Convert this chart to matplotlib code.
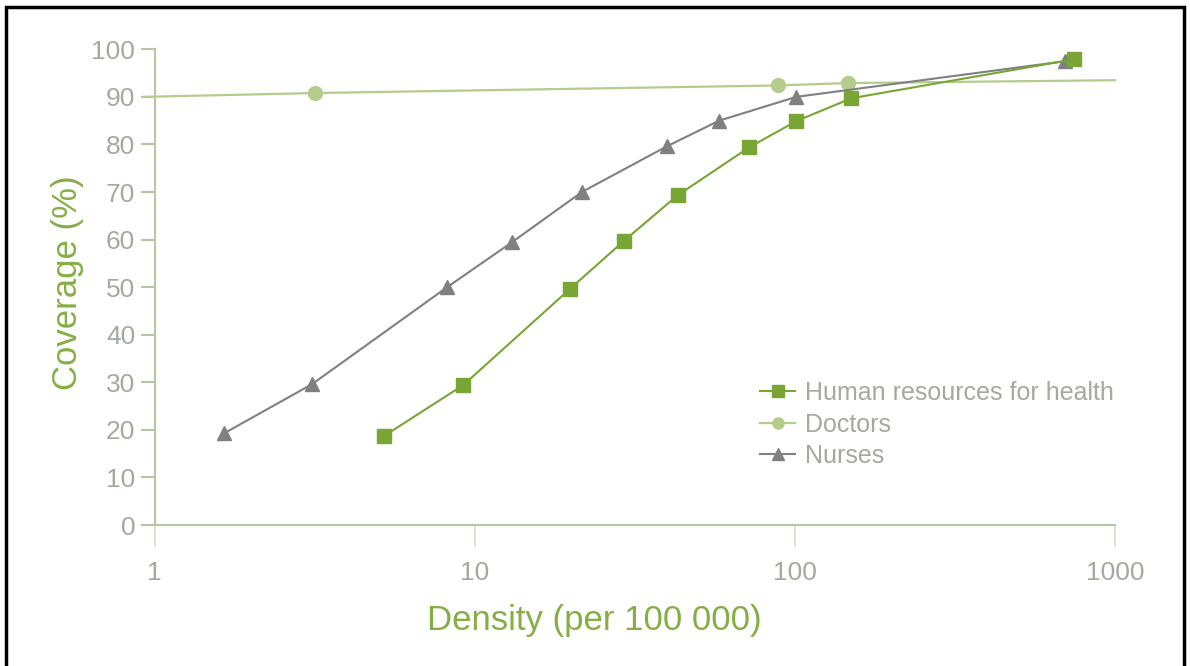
import matplotlib.pyplot as plt
from matplotlib.patches import Rectangle

# values (density per 100 000, coverage %)
hrh_density = [5.2, 9.2, 19.8, 29.2, 43, 72, 101, 150, 745]
hrh_coverage = [18.7, 29.4, 49.6, 59.7, 69.3, 79.4, 84.9, 89.7, 97.9]

nurse_density = [1.65, 3.1, 8.2, 13.1, 21.6, 39.8, 58, 101, 700]
nurse_coverage = [19.3, 29.6, 50, 59.5, 70, 79.6, 85, 90, 97.5]

# doctors: trend line end points plus three measured points
doctor_density = [0.92, 3.16, 88.5, 146, 1000]
doctor_coverage = [90.0, 90.8, 92.4, 92.9, 93.5]
doctor_marked = [1, 2, 3]

x_ticks = [1, 10, 100, 1000]
x_ticklabels = ["1", "10", "100", "1000"]
y_ticks = list(range(0, 101, 10))

green = "#79a535"
light_green = "#b4cc8c"
grey = "#808082"
axis_col = "#b7c7a0"
tick_txt = "#a3aa9f"
label_col = "#86ae45"

plt.rcParams['font.family'] = ['Liberation Sans', 'DejaVu Sans']

fig = plt.figure(figsize=(11.9, 6.66), dpi=100)
ax = fig.add_axes([0.130, 0.2117, 0.807, 0.7143])

ax.plot(doctor_density, doctor_coverage, color=light_green, lw=1.6,
        marker='o', markersize=10, markevery=doctor_marked,
        label="Doctors", clip_on=False, zorder=2)
ax.plot(nurse_density, nurse_coverage, color=grey, lw=1.5,
        marker='^', markersize=10, label="Nurses", clip_on=False, zorder=3)
ax.plot(hrh_density, hrh_coverage, color=green, lw=1.5,
        marker='s', markersize=10, label="Human resources for health",
        clip_on=False, zorder=4)

ax.set_xscale('log')
ax.set_xlim(1, 1000)
ax.set_ylim(0, 100)
ax.set_xticks(x_ticks)
ax.set_xticklabels(x_ticklabels)
ax.minorticks_off()
ax.set_yticks(y_ticks)

for side in ['top', 'right']:
    ax.spines[side].set_visible(False)
for side in ['left', 'bottom']:
    ax.spines[side].set_color(axis_col)
    ax.spines[side].set_linewidth(1.5)

ax.tick_params(axis='y', direction='out', length=10, width=1.5, color=axis_col,
               labelcolor=tick_txt, labelsize=19, pad=4)
ax.tick_params(axis='x', direction='out', length=16, width=1.2, color="#d6e2c4",
               labelcolor=tick_txt, labelsize=19, pad=10)

ax.set_xlabel("Density (per 100 000)", color=label_col, fontsize=25)
ax.set_ylabel("Coverage (%)", color=label_col, fontsize=25)
ax.xaxis.set_label_coords(0.458, -0.165)
ax.yaxis.set_label_coords(-0.074, 0.51)

handles, labels = ax.get_legend_handles_labels()
order = [2, 0, 1]
leg = ax.legend([handles[i] for i in order], [labels[i] for i in order],
                loc='upper left', bbox_to_anchor=(0.607, 0.35), frameon=False,
                fontsize=18, handlelength=1.4, handletextpad=0.4,
                labelspacing=0.3, markerscale=0.8)
for t in leg.get_texts():
    t.set_color(tick_txt)

fig.add_artist(Rectangle((0.005, -0.02), 0.99, 1.009, transform=fig.transFigure,
                         fill=False, edgecolor='black', lw=2.5))

fig.savefig("out.png", dpi=100)
